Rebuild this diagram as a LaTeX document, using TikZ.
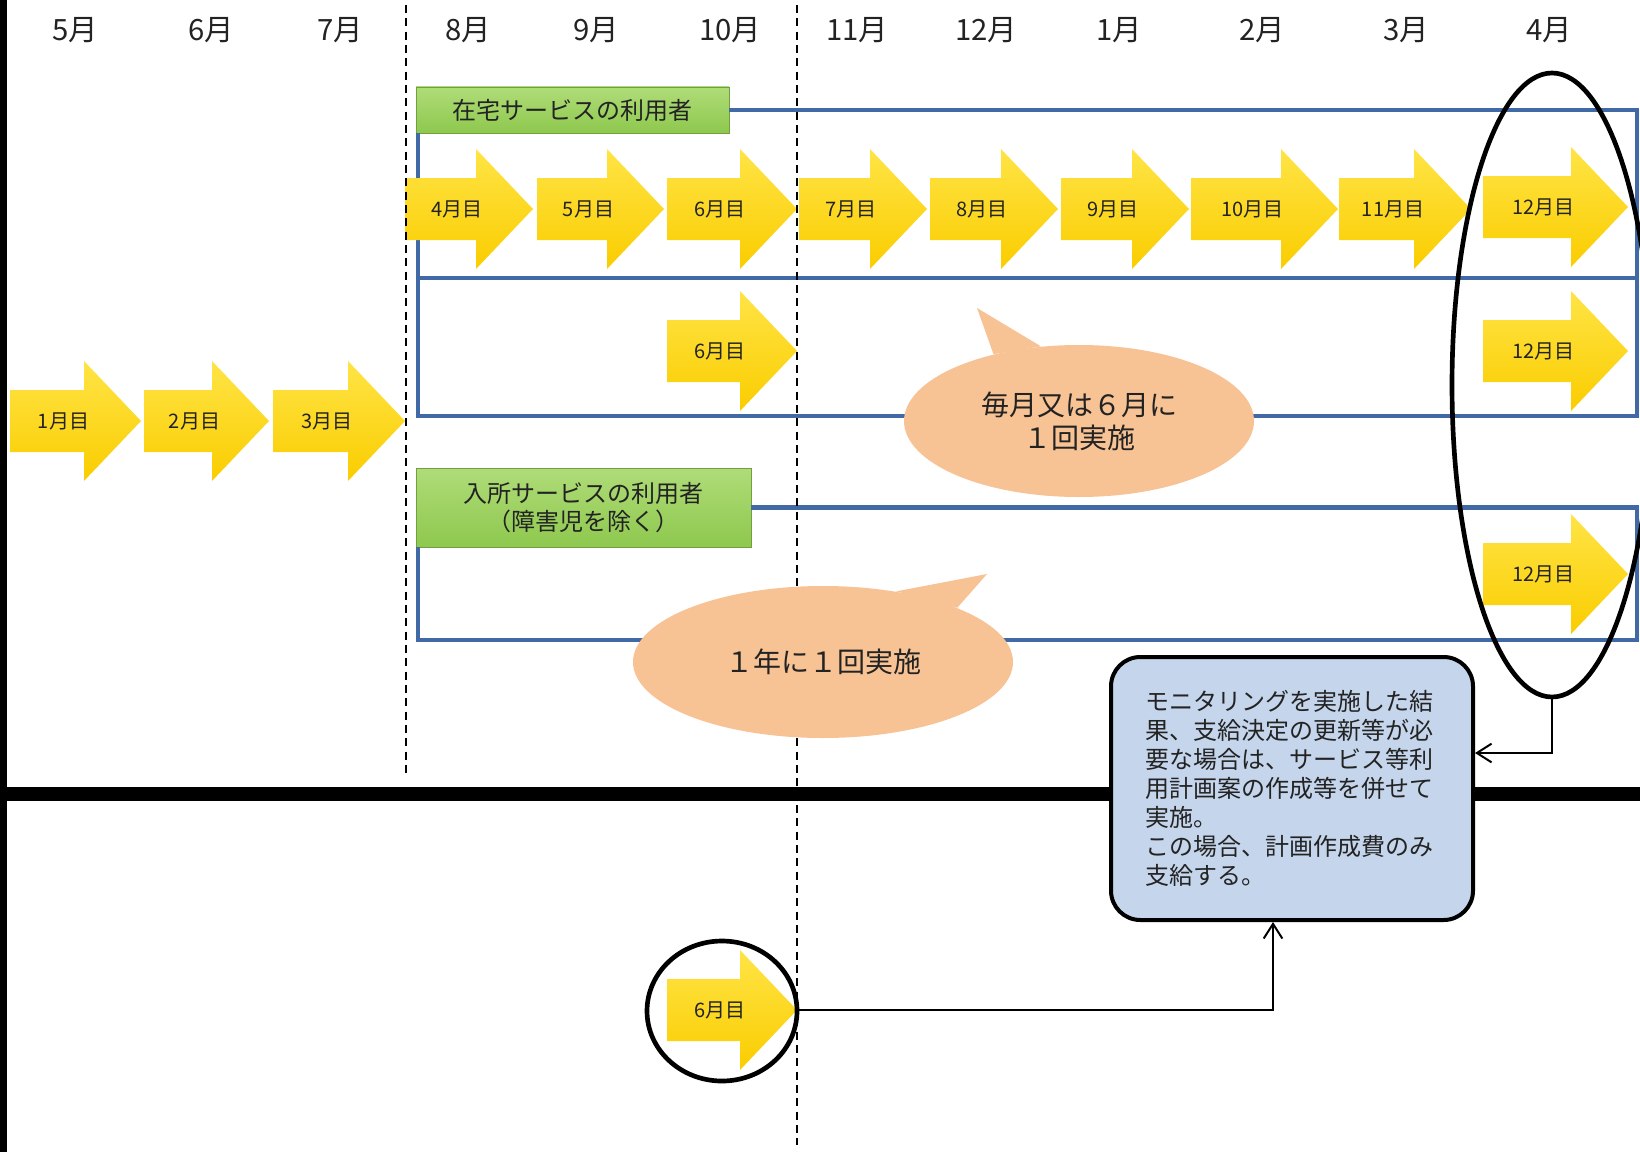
\documentclass[tikz,border=0pt]{standalone}
\usepackage{fontspec}
\setmainfont{Noto Sans CJK JP}
\usetikzlibrary{shapes.geometric,arrows.meta,calc,positioning}

\definecolor{bandblue}{RGB}{65,105,165}
\definecolor{arrowgold}{RGB}{250,205,0}
\definecolor{arrowlight}{RGB}{255,228,70}
\definecolor{labelgreen}{RGB}{142,200,78}
\definecolor{labellight}{RGB}{175,220,120}
\definecolor{bubblepeach}{RGB}{247,194,148}
\definecolor{noteblue}{RGB}{197,213,235}
\definecolor{inkgrey}{RGB}{35,35,35}

\tikzset{every picture/.style={line width=0.75pt}}
\tikzset{
  monthlbl/.style={font=\fontsize{22}{24}\selectfont, text=inkgrey, inner sep=0pt},
  arrowlbl/.style={font=\fontsize{15}{17}\selectfont, text=inkgrey, inner sep=0pt},
  grouplbl/.style={top color=labellight, bottom color=labelgreen, draw=labelgreen!80!black, line width=0.5pt, text=inkgrey,
    font=\fontsize{18}{21}\selectfont, inner sep=0pt},
  band/.style={draw=bandblue, line width=3.5pt},
  monthsep/.style={draw=black, line width=1.5pt, dash pattern=on 6pt off 4pt},
  bubble/.style={ellipse, fill=bubblepeach, inner sep=0pt, align=center, text=inkgrey,
    font=\fontsize{21}{24.75}\selectfont},
  notebox/.style={draw=black, line width=3pt, rounded corners=22pt, fill=noteblue, inner sep=0pt,
    text width=220pt, align=left, text=inkgrey, font=\fontsize{18}{21.75}\selectfont},
  ring/.style={ellipse, draw=black, line width=3.5pt, inner sep=0pt},
  link/.style={draw=black, line width=1.5pt, -{Straight Barb[length=11pt,width=14pt]}}
}

% yellow month arrow: name, left x, centre y, body length, label
\newcommand{\yarrow}[5]{%
  \shade[top color=arrowlight, bottom color=arrowgold] (#2,#3-31) -- ++(#4,0) -- ++(0,-29) -- ++(57,60) -- ++(-57,60) -- ++(0,-29) -- ++(-#4,0) -- cycle;
  \node[arrowlbl] (#1) at ({#2+(#4+57)/2-12},#3) {#5};
  \coordinate (#1-tip) at (#2+#4+57,#3);
}

\begin{document}
\begin{tikzpicture}[x=0.75pt,y=0.75pt,yscale=-1,xscale=1]
	\useasboundingbox (0,0) rectangle (1640,1152);

	%Left edge bar
	\fill (0,0) rectangle (7,1152);

	% Month headings
	\foreach \mx/\mn [count=\i] in {75/5,211/6,340/7,468/8,596/9,730/10,857/11,986/12,1119/1,1262/2,1406/3,1549/4}
		\node[monthlbl] (mon\i) at (\mx,30) {\mn{}月};

	% Group labels
	\node[grouplbl, minimum width=234.75pt, minimum height=34.5pt] (zaitaku) at (572.5,110) {在宅サービスの利用者};
	\node[grouplbl, minimum width=251.25pt, minimum height=59.25pt, align=center] (nyusho) at (583.5,507.5) {入所サービスの利用者\\（障害児を除く）};

	%Frames
	\draw[band] (zaitaku.east) -- (1637,110) -- (1637,416) -- (418,416) -- (418,133);
	\draw[band] (418,278) -- (1637,278);
	\draw[band] (nyusho.east) -- (1637,507.5) -- (1637,640) -- (418,640) -- (418,547);

	%Arrows: first three months
	\yarrow{a1}{10}{421}{74}{1月目}
	\yarrow{a2}{144}{421}{68}{2月目}
	\yarrow{a3}{273}{421}{75}{3月目}

	%Arrows: monthly row
	\yarrow{b4}{405}{209}{71}{4月目}
	\yarrow{b5}{537}{209}{70}{5月目}
	\yarrow{b6}{667}{209}{73}{6月目}
	\yarrow{b7}{799}{209}{71}{7月目}
	\yarrow{b8}{930}{209}{71}{8月目}
	\yarrow{b9}{1061}{209}{71}{9月目}
	\yarrow{b10}{1191}{209}{90}{10月目}
	\yarrow{b11}{1339}{209}{75}{11月目}
	\yarrow{b12}{1483}{207}{88}{12月目}

	%Arrows: six-monthly row
	\yarrow{c6}{667}{351}{73}{6月目}
	\yarrow{c12}{1483}{351}{88}{12月目}

	%Arrows: yearly row
	\yarrow{d12}{1483}{574}{88}{12月目}

	%Arrows: below the line
	\yarrow{e6}{667}{1010}{73}{6月目}

	%Dashed separators
	\draw[monthsep] (406,5) -- (406,776);
	\draw[monthsep] (797,5) -- (797,1145);

	% Speech bubbles
	\node[bubble, minimum width=262.5pt, minimum height=114pt] (bubblea) at (1079,421) {毎月又は６月に\\１回実施};
	\fill[bubblepeach] (977,308) -- (bubblea.117) -- (bubblea.142) -- cycle;
	\node[bubble, minimum width=285pt, minimum height=114pt] (bubbleb) at (823,662) {１年に１回実施};
	\fill[bubblepeach] (987,574) -- (bubbleb.44) -- (bubbleb.22) -- cycle;

	%Thick rule
	\draw[line width=10pt] (0,794) -- (1640,794);

	% Note
	\node[notebox, minimum width=271.5pt, minimum height=197.25pt] (note) at (1292,788.5)
		{モニタリングを実施した結\\果、支給決定の更新等が必\\要な場合は、サービス等利\\用計画案の作成等を併せて\\実施。\\この場合、計画作成費のみ\\支給する。};

	%Rings
	\node[ring, minimum width=150pt, minimum height=468pt] (bigoval) at (1552,385) {};
	\node[ring, minimum width=112.5pt, minimum height=105pt] (smalloval) at (722,1011) {};

	%Connectors
	\draw[link] (bigoval.south) |- ($(note.east)+(0,-35.5)$);
	\draw[link] (e6-tip) -| ($(note.south)+(-19,0)$);

\end{tikzpicture}
\end{document}
